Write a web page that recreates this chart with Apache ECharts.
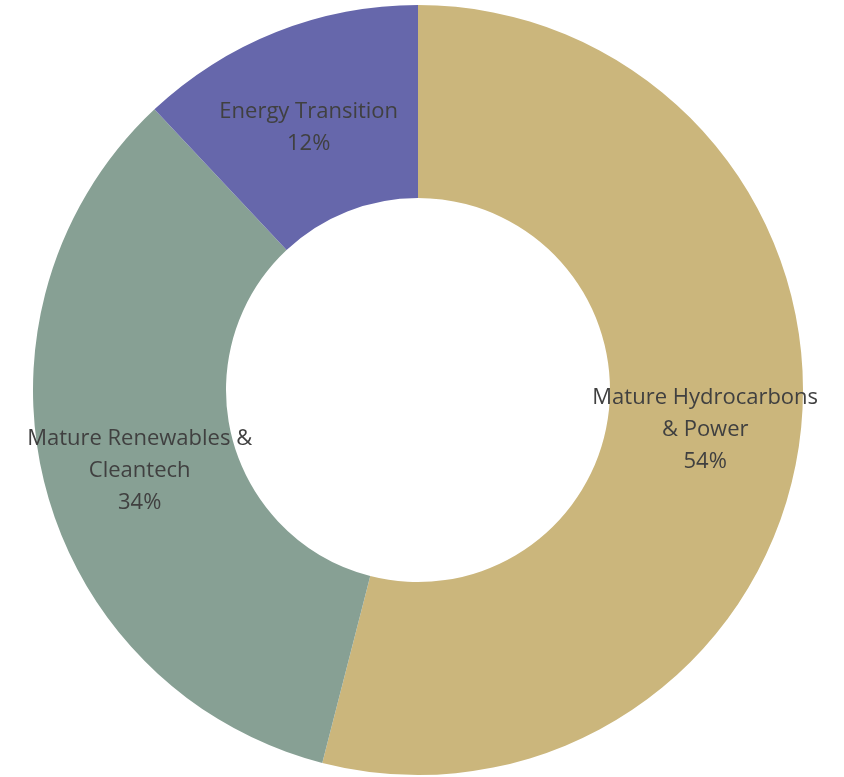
<!DOCTYPE html>
<html>
<head>
<meta charset="utf-8">
<script src="https://cdn.jsdelivr.net/npm/echarts@6/dist/echarts.min.js"></script>
<style>
  html, body { margin: 0; padding: 0; background: #ffffff; }
  #chart { width: 844px; height: 777px; }
</style>
</head>
<body>
<div id="chart"></div>
<script>
// Portfolio split by segment
const categories = [
  'Mature Hydrocarbons\n& Power',
  'Mature Renewables &\nCleantech',
  'Energy Transition'
];
const shares = [54, 34, 12];
const colors = ['#CBB67C', '#87A094', '#6667AB'];
// small nudges so each label sits centred in its band
const labelNudge = [[-2, 3], [4, 8], [-2, 9]];

const chart = echarts.init(document.getElementById('chart'));

chart.setOption({
  animation: false,
  series: [{
    type: 'pie',
    center: [418, 390],
    radius: [192, 385],
    startAngle: 90,
    clockwise: true,
    avoidLabelOverlap: false,
    data: categories.map((name, i) => ({
      name: name,
      value: shares[i],
      itemStyle: { color: colors[i] },
      label: { offset: labelNudge[i] }
    })),
    itemStyle: { borderWidth: 0 },
    label: {
      show: true,
      position: 'inner',
      formatter: p => p.name + '\n' + Math.round(p.percent) + '%',
      fontFamily: 'Open Sans',
      fontSize: 22,
      lineHeight: 32,
      color: '#404040',
      align: 'center'
    },
    labelLine: { show: false },
    emphasis: { disabled: true }
  }]
});
</script>
</body>
</html>
